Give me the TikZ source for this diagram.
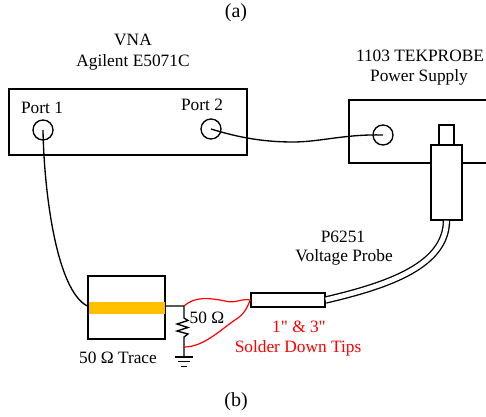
\documentclass[tikz,border=0pt]{standalone}
\usepackage{fontspec}
\setmainfont{Liberation Serif}[Ligatures=TeXOff]
\definecolor{traceyellow}{HTML}{FFC000}

\begin{document}
\begin{tikzpicture}[x=0.75pt,y=-0.75pt]
        \tikzstyle{every node}=[inner sep=0pt,font=\fontsize{13}{15}\selectfont]
        \tikzstyle{caption}=[font=\fontsize{15}{17}\selectfont]
        \tikzstyle{box}=[draw,line width=1pt,fill=white]
        \tikzstyle{port}=[draw,circle,line width=1pt,minimum size=15pt]
        \tikzstyle{wire}=[line width=1pt]
        \tikzstyle{tip}=[line width=0.9pt,red]
        \useasboundingbox (0,0) rectangle (486,417);

        % captions
        \node[caption] (capa) at (236,13) {(a)};
        \node[caption] (capb) at (236,402) {(b)};

        % vna
        \node[box,minimum width=178.5pt,minimum height=49.5pt] (vna) at (128,122) {};
        \node (vnaname) at (133,40) {VNA};
        \node (vnamodel) at (133,62) {Agilent E5071C};
        \node[port] (port1) at (43,130) {};
        \node[port] (port2) at (211,129) {};
        \node (port1label) at (42,108) {Port 1};
        \node (port2label) at (202,105) {Port 2};

        % power supply
        \coordinate (supplytr) at (486,100);
        \coordinate (supplybr) at (486,163);
        \draw[wire] (supplytr) -- (349,100) -- (349,163) -- (supplybr);
        \node[port] (supplyport) at (383,135) {};
        \node (supplyname) at (420,56) {1103 TEKPROBE};
        \node (supplyname2) at (419,77) {Power Supply};

        % voltage probe
        \node[box,minimum width=11.25pt,minimum height=15pt] (plug) at (446.5,135) {};
        \node[box,minimum width=23.25pt,minimum height=56.25pt] (body) at (446.5,182.5) {};
        \node[box,minimum width=55.5pt,minimum height=10.5pt] (tiphead) at (288,300) {};
        \draw[double,double distance=3.6pt,line width=1pt] (tiphead.east) .. controls (390,285) and (446,265) .. (body.south);
        \node (probename) at (343,237) {P6251};
        \node (probename2) at (344,257) {Voltage Probe};

        % trace board
        \node[box,minimum width=57.75pt,minimum height=47.25pt] (board) at (126.5,307.5) {};
        \node[fill=traceyellow,minimum width=57pt,minimum height=9pt] (trace) at (126.5,308) {};
        \node (tracelabel) at (118,358) {50 Ω Trace};

        % load resistor and ground
        \coordinate (rtop) at (184,306);
        \coordinate (rbot) at (184,347);
        \coordinate (gnd) at (184,357);
        \draw[wire] (trace.east |- rtop) -- (rtop) -- (184,318) -- (188,320.5) -- (177,324) -- (188,327.5)
                -- (177,331) -- (188,334) -- (184,337) -- (rbot) -- (gnd);
        \draw[wire] ([xshift=-7pt]gnd) -- ([xshift=7pt]gnd);
        \draw[wire] ([xshift=-4.5pt,yshift=-3.5pt]gnd) -- ([xshift=4.5pt,yshift=-3.5pt]gnd);
        \draw[wire] ([xshift=-2.5pt,yshift=-7pt]gnd) -- ([xshift=2.5pt,yshift=-7pt]gnd);
        \node (loadlabel) at (207,318) {50 Ω};

        % cables
        \draw[wire] (port1.center) .. controls (44,190) and (56,290) .. (board.west |- rtop);
        \draw[wire] (port2.center) .. controls (240,138) and (265,142) .. (293,142) .. controls (320,142) and (345,134) .. (supplyport.center);

        % solder down tips
        \draw[tip] (rtop) .. controls (195,296) and (210,298) .. (225,301) .. controls (235,304) and (242,298) .. (tiphead.west);
        \draw[tip] (rbot) .. controls (205,347) and (222,328) .. (238,318) .. controls (246,312) and (248,305) .. (tiphead.west);
        \node[red] (tiplabel) at (299,327) {1" \& 3"};
        \node[red] (tiplabel2) at (298,348) {Solder Down Tips};
    \end{tikzpicture}
\end{document}
